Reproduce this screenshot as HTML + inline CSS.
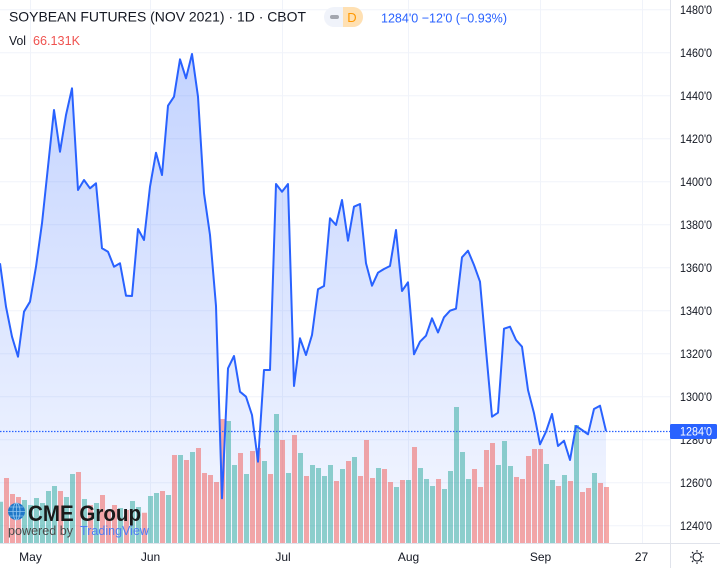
<!DOCTYPE html>
<html><head><meta charset="utf-8"><style>
html,body{margin:0;padding:0;background:#fff;}
svg{display:block;font-family:"Liberation Sans",sans-serif;}
</style></head><body>
<svg width="720" height="568" viewBox="0 0 720 568" xmlns="http://www.w3.org/2000/svg">
<defs>
<linearGradient id="g" gradientUnits="userSpaceOnUse" x1="0" y1="54" x2="0" y2="543">
<stop offset="0" stop-color="rgba(41,98,255,0.28)"/>
<stop offset="1" stop-color="rgba(41,98,255,0.05)"/>
</linearGradient>
</defs>
<rect width="720" height="568" fill="#fff"/>
<path stroke="#f0f3fa" stroke-width="1" fill="none" d="M0 9.7H670M0 52.7H670M0 95.7H670M0 138.7H670M0 181.7H670M0 224.7H670M0 267.7H670M0 310.7H670M0 353.7H670M0 396.7H670M0 439.7H670M0 482.7H670M0 525.7H670M30.5 0V543M150.5 0V543M282.5 0V543M408.5 0V543M540.5 0V543M642.5 0V543"/>
<path fill="url(#g)" d="M0,543 L0,263.3 6,306.7 12,336.7 18,356.7 24,311.7 30,301.7 36,266.7 42,223.3 48,166.7 54,110 60,151.7 66,115 72,88.3 78,190 84,180 90,188.3 96,183.3 102,248.3 108,251.7 114,266.7 120,263.3 126,295.7 132,296 138,229 144,240 150,186.7 156,152.7 162,175 168,105.7 174,96.7 180,59.3 186,78.3 192,54 198,96.7 204,193.3 210,235 216,306 222,498.3 228,368.3 234,356 240,391.7 246,396.7 252,415 258,461.7 264,370 270,370 276,184 282,191.7 288,184 294,386 300,338.3 306,355 312,335 318,289.3 324,286 330,218.3 336,225 342,200 348,240.7 354,206.7 360,204 366,263.3 372,285.7 378,272.7 384,269 390,266 396,230 402,291 408,282.3 414,354.3 420,341.7 426,335.7 432,318.3 438,332.5 444,317.3 450,310.7 456,308.7 462,257.3 468,250.7 474,265 480,281.7 486,350 492,416.7 498,412.7 504,328.7 510,326.7 516,340 522,346.7 528,390 534,413.3 540,444.3 546,431.7 552,414 558,446 564,440.7 570,460 576,426 582,430 588,434.3 594,409 600,405.7 606,431 L606,543 Z"/>
<path fill="rgba(38,166,154,0.5)" d="M-2 501.7h5V543h-5zM22 500h5V543h-5zM28 505h5V543h-5zM34 498h5V543h-5zM40 503h5V543h-5zM46 491h5V543h-5zM52 486h5V543h-5zM64 497h5V543h-5zM70 474h5V543h-5zM82 499h5V543h-5zM94 503h5V543h-5zM118 508h5V543h-5zM130 501h5V543h-5zM136 507h5V543h-5zM148 496h5V543h-5zM154 493h5V543h-5zM166 495h5V543h-5zM178 455h5V543h-5zM190 452h5V543h-5zM226 421h5V543h-5zM232 465h5V543h-5zM244 474h5V543h-5zM262 461h5V543h-5zM274 414h5V543h-5zM286 473h5V543h-5zM298 453h5V543h-5zM310 465h5V543h-5zM316 468h5V543h-5zM322 476h5V543h-5zM328 465h5V543h-5zM340 469h5V543h-5zM352 457h5V543h-5zM376 468h5V543h-5zM394 487h5V543h-5zM406 480h5V543h-5zM418 468h5V543h-5zM424 479h5V543h-5zM430 486h5V543h-5zM442 489h5V543h-5zM448 471h5V543h-5zM454 407h5V543h-5zM460 452h5V543h-5zM466 479h5V543h-5zM496 465h5V543h-5zM502 441h5V543h-5zM508 466h5V543h-5zM544 464h5V543h-5zM550 480h5V543h-5zM562 475h5V543h-5zM574 425h5V543h-5zM592 473h5V543h-5z"/>
<path fill="rgba(239,83,80,0.5)" d="M4 478h5V543h-5zM10 494h5V543h-5zM16 497h5V543h-5zM58 491h5V543h-5zM76 472h5V543h-5zM88 505h5V543h-5zM100 495h5V543h-5zM106 510h5V543h-5zM112 505h5V543h-5zM124 510h5V543h-5zM142 512.7h5V543h-5zM160 491h5V543h-5zM172 455h5V543h-5zM184 460h5V543h-5zM196 448h5V543h-5zM202 473h5V543h-5zM208 475h5V543h-5zM214 482h5V543h-5zM220 419h5V543h-5zM238 453h5V543h-5zM250 451h5V543h-5zM256 448h5V543h-5zM268 474h5V543h-5zM280 440h5V543h-5zM292 435h5V543h-5zM304 476h5V543h-5zM334 481h5V543h-5zM346 461h5V543h-5zM358 476h5V543h-5zM364 440h5V543h-5zM370 478h5V543h-5zM382 469h5V543h-5zM388 482h5V543h-5zM400 480h5V543h-5zM412 447h5V543h-5zM436 479h5V543h-5zM472 469h5V543h-5zM478 487h5V543h-5zM484 450h5V543h-5zM490 443h5V543h-5zM514 477h5V543h-5zM520 479h5V543h-5zM526 456h5V543h-5zM532 449h5V543h-5zM538 449h5V543h-5zM556 486h5V543h-5zM568 481h5V543h-5zM580 492h5V543h-5zM586 488h5V543h-5zM598 483h5V543h-5zM604 487h5V543h-5z"/>
<polyline fill="none" stroke="#2962ff" stroke-width="2" stroke-linejoin="round" points="0,263.3 6,306.7 12,336.7 18,356.7 24,311.7 30,301.7 36,266.7 42,223.3 48,166.7 54,110 60,151.7 66,115 72,88.3 78,190 84,180 90,188.3 96,183.3 102,248.3 108,251.7 114,266.7 120,263.3 126,295.7 132,296 138,229 144,240 150,186.7 156,152.7 162,175 168,105.7 174,96.7 180,59.3 186,78.3 192,54 198,96.7 204,193.3 210,235 216,306 222,498.3 228,368.3 234,356 240,391.7 246,396.7 252,415 258,461.7 264,370 270,370 276,184 282,191.7 288,184 294,386 300,338.3 306,355 312,335 318,289.3 324,286 330,218.3 336,225 342,200 348,240.7 354,206.7 360,204 366,263.3 372,285.7 378,272.7 384,269 390,266 396,230 402,291 408,282.3 414,354.3 420,341.7 426,335.7 432,318.3 438,332.5 444,317.3 450,310.7 456,308.7 462,257.3 468,250.7 474,265 480,281.7 486,350 492,416.7 498,412.7 504,328.7 510,326.7 516,340 522,346.7 528,390 534,413.3 540,444.3 546,431.7 552,414 558,446 564,440.7 570,460 576,426 582,430 588,434.3 594,409 600,405.7 606,431"/>
<line x1="0" y1="431.5" x2="670" y2="431.5" stroke="#2962ff" stroke-width="1.3" stroke-dasharray="1.5 1.5"/>
<path stroke="#e0e3eb" stroke-width="1" fill="none" d="M670.5 0V568M0 543.5H720"/>
<g font-size="12" fill="#131722">
<text x="680" y="14" textLength="32" lengthAdjust="spacingAndGlyphs">1480'0</text>
<text x="680" y="57" textLength="32" lengthAdjust="spacingAndGlyphs">1460'0</text>
<text x="680" y="100" textLength="32" lengthAdjust="spacingAndGlyphs">1440'0</text>
<text x="680" y="143" textLength="32" lengthAdjust="spacingAndGlyphs">1420'0</text>
<text x="680" y="186" textLength="32" lengthAdjust="spacingAndGlyphs">1400'0</text>
<text x="680" y="229" textLength="32" lengthAdjust="spacingAndGlyphs">1380'0</text>
<text x="680" y="272" textLength="32" lengthAdjust="spacingAndGlyphs">1360'0</text>
<text x="680" y="315" textLength="32" lengthAdjust="spacingAndGlyphs">1340'0</text>
<text x="680" y="358" textLength="32" lengthAdjust="spacingAndGlyphs">1320'0</text>
<text x="680" y="401" textLength="32" lengthAdjust="spacingAndGlyphs">1300'0</text>
<text x="680" y="444" textLength="32" lengthAdjust="spacingAndGlyphs">1280'0</text>
<text x="680" y="487" textLength="32" lengthAdjust="spacingAndGlyphs">1260'0</text>
<text x="680" y="530" textLength="32" lengthAdjust="spacingAndGlyphs">1240'0</text>
</g>
<rect x="670" y="424" width="47" height="15" rx="1.5" fill="#2962ff"/>
<text x="680" y="435.5" font-size="12" fill="#fff" textLength="32" lengthAdjust="spacingAndGlyphs">1284'0</text>
<g font-size="12" fill="#131722" text-anchor="middle">
<text x="30.5" y="561">May</text>
<text x="150.5" y="561">Jun</text>
<text x="283" y="561">Jul</text>
<text x="408.5" y="561">Aug</text>
<text x="540.5" y="561">Sep</text>
<text x="641.5" y="561">27</text>
</g>
<circle cx="697" cy="557" r="4" stroke="#131722" stroke-width="1.1" fill="none"/>
<path stroke="#131722" stroke-width="1.1" fill="none" d="M697 550v1.8M697 562.2v1.8M690 557h1.8M702.2 557h1.8M692 552l1.3 1.3M700.7 560.7l1.3 1.3M702 552l-1.3 1.3M693.3 560.7l-1.3 1.3"/>
<text x="9" y="21.7" font-size="14" fill="#131722" textLength="297" lengthAdjust="spacingAndGlyphs">SOYBEAN FUTURES (NOV 2021) · 1D · CBOT</text>
<text x="9" y="45" font-size="12.5" fill="#131722" textLength="17" lengthAdjust="spacingAndGlyphs">Vol</text>
<text x="33" y="45" font-size="12.5" fill="#ef5350" textLength="47" lengthAdjust="spacingAndGlyphs">66.131K</text>
<rect x="324" y="7" width="39" height="20" rx="10" fill="#f0f3fa"/>
<path d="M343,7 H353 A10,10 0 0 1 353,27 H343 Z" fill="#ffe0b2"/>
<rect x="330" y="15" width="9" height="4" rx="2" fill="#a3a6af"/>
<text x="352" y="22" font-size="13" fill="#ff9800" text-anchor="middle">D</text>
<text x="381" y="22.7" font-size="13" fill="#2962ff" textLength="126" lengthAdjust="spacingAndGlyphs">1284'0 −12'0 (−0.93%)</text>
<circle cx="16.5" cy="511.5" r="8.5" fill="#1f78c8"/>
<ellipse cx="16.5" cy="511.5" rx="3.5" ry="8.5" fill="none" stroke="#8fc3ee" stroke-width="0.9"/>
<path stroke="#8fc3ee" stroke-width="0.8" fill="none" d="M8 511.5H25M9.5 507H23.5M9.5 516H23.5M16.5 503V520"/>
<text x="28" y="521" font-size="22" font-weight="bold" fill="#1a1a1a" textLength="113" lengthAdjust="spacingAndGlyphs">CME Group</text>
<text x="8" y="535" font-size="12.5" fill="#4a4a4a" textLength="65" lengthAdjust="spacingAndGlyphs">powered by</text>
<text x="80" y="535" font-size="12.5" fill="#4f7df5" textLength="69" lengthAdjust="spacingAndGlyphs">TradingView</text>
</svg>
</body></html>
